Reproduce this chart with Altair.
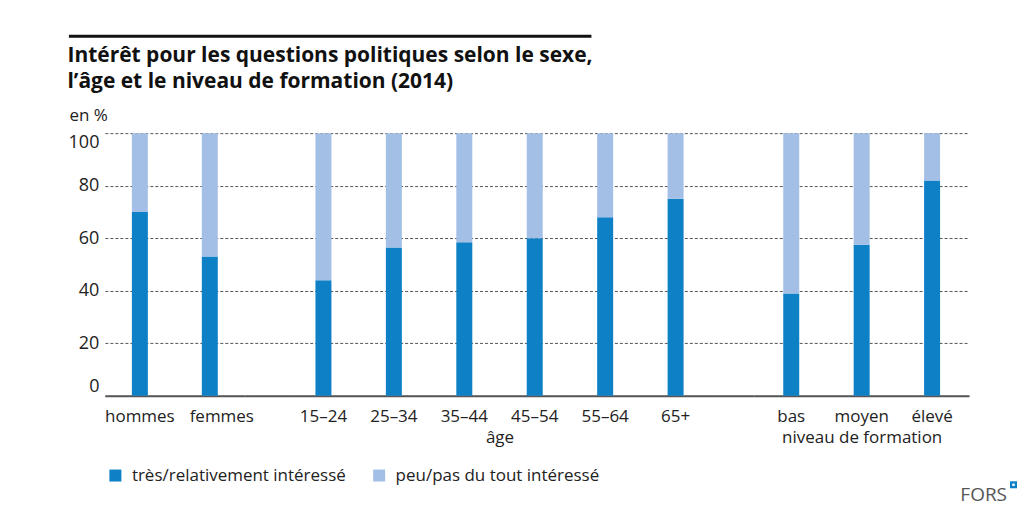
import altair as alt
import pandas as pd

FONT = "Open Sans"

title_lines = ["Intérêt pour les questions politiques selon le sexe,",
               "l’âge et le niveau de formation (2014)"]
series = ["très/relativement intéressé", "peu/pas du tout intéressé"]
colors = ["#0D80C6", "#A3BFE6"]

sexe_cats = ["hommes", "femmes"]
sexe_vals = [70, 53]
age_cats = ["15–24", "25–34", "35–44", "45–54", "55–64", "65+"]
age_vals = [44, 56.5, 58.5, 60, 68, 75]
form_cats = ["bas", "moyen", "élevé"]
form_vals = [39, 57.5, 82]
y_ticks = [0, 20, 40, 60, 80, 100]


def long_df(cats, vals):
    rows = []
    for c, v in zip(cats, vals):
        rows.append({"cat": c, "serie": series[0], "ord": 0, "value": v})
        rows.append({"cat": c, "serie": series[1], "ord": 1, "value": 100 - v})
    return pd.DataFrame(rows)


legend = alt.Legend(
    title=None, orient="none", legendX=2, legendY=334, direction="horizontal",
    symbolType="square", symbolSize=144, symbolStrokeWidth=0,
    labelFont=FONT, labelFontSize=17, labelColor="#222", labelOffset=8,
    labelLimit=500, columnPadding=24,
)


def panel(cats, vals, width, pad_outer, xtitle, first):
    df = long_df(cats, vals)
    xaxis_kwargs = dict(
        labelAngle=0, labelFont=FONT, labelFontSize=17, labelColor="#222",
        labelPadding=13, ticks=False, domainColor="#555", domainWidth=2,
        titleFont=FONT, titleFontSize=17, titleFontWeight="normal",
        titleColor="#222", titlePadding=5,
    )
    if first:
        xaxis = alt.Axis(
            title=None,
            labelOffset={"condition": {"test": "datum.value === 'femmes'",
                                       "value": 12}, "value": 0},
            **xaxis_kwargs)
    else:
        xaxis = alt.Axis(title=xtitle, **xaxis_kwargs)
    if first:
        yaxis = alt.Axis(
            values=y_ticks, title="en %", titleAngle=0, titleAlign="left",
            titleBaseline="alphabetic", titleX=-36, titleY=-13,
            titleFont=FONT, titleFontSize=17, titleFontWeight="normal",
            titleColor="#222", labelFont=FONT, labelFontSize=18,
            labelColor="#222", labelPadding=6, labelFlush=True,
            domain=False, ticks=False,
            grid=True, gridDash=[3, 2], gridColor="#555", gridWidth=1,
        )
    else:
        yaxis = alt.Axis(
            values=y_ticks, title=None, labels=False, domain=False,
            ticks=False, grid=True, gridDash=[3, 2], gridColor="#555",
            gridWidth=1,
        )
    bars = alt.Chart(df).mark_bar(size=16).encode(
        x=alt.X("cat:N", sort=cats,
                scale=alt.Scale(paddingInner=0, paddingOuter=pad_outer),
                axis=xaxis),
        y=alt.Y("value:Q", stack="zero", scale=alt.Scale(domain=[0, 100]),
                axis=yaxis),
        color=alt.Color("serie:N", scale=alt.Scale(domain=series, range=colors),
                        legend=legend),
        order=alt.Order("ord:Q"),
    ).properties(width=width, height=263)
    return bars


p1 = panel(sexe_cats, sexe_vals, 140, 0.0, None, True)
p2 = panel(age_cats, age_vals, 510, 0.617, "âge", False)
p3 = panel(form_cats, form_vals, 215, 0.025, "niveau de formation", False)

rule = alt.Chart(pd.DataFrame({"r": [1]})).mark_rule(
    color="#111", strokeWidth=3
).encode(x=alt.value(-36), x2=alt.value(487), y=alt.value(-97))
p1 = alt.layer(p1, rule)

logo_df = pd.DataFrame({"t": ["FORS"]})
logo_text = alt.Chart(logo_df).mark_text(
    align="right", baseline="alphabetic", font=FONT, fontSize=19,
    color="#555",
).encode(x=alt.value(253), y=alt.value(368), text="t:N")
logo_sq = alt.Chart(logo_df).mark_square(
    size=49, filled=True, color="#0D80C6", opacity=1
).encode(x=alt.value(259.5), y=alt.value(352))
logo_dot = alt.Chart(logo_df).mark_square(
    size=6, filled=True, color="white", opacity=1
).encode(x=alt.value(259.5), y=alt.value(352))
p3 = alt.layer(p3, logo_text, logo_sq, logo_dot)

chart = alt.hconcat(p1, p2, p3, spacing=0, bounds="flush").properties(
    title=alt.TitleParams(
        text=title_lines, anchor="start", font=FONT, fontSize=21,
        fontWeight="bold", color="#111", baseline="top", lineHeight=26,
        offset=-57,
    ),
    padding={"left": 59, "top": 26, "right": 10, "bottom": 10},
).resolve_scale(color="shared").configure_view(stroke=None)

chart.save("out.html", embed_options={"renderer": "svg", "actions": False})
